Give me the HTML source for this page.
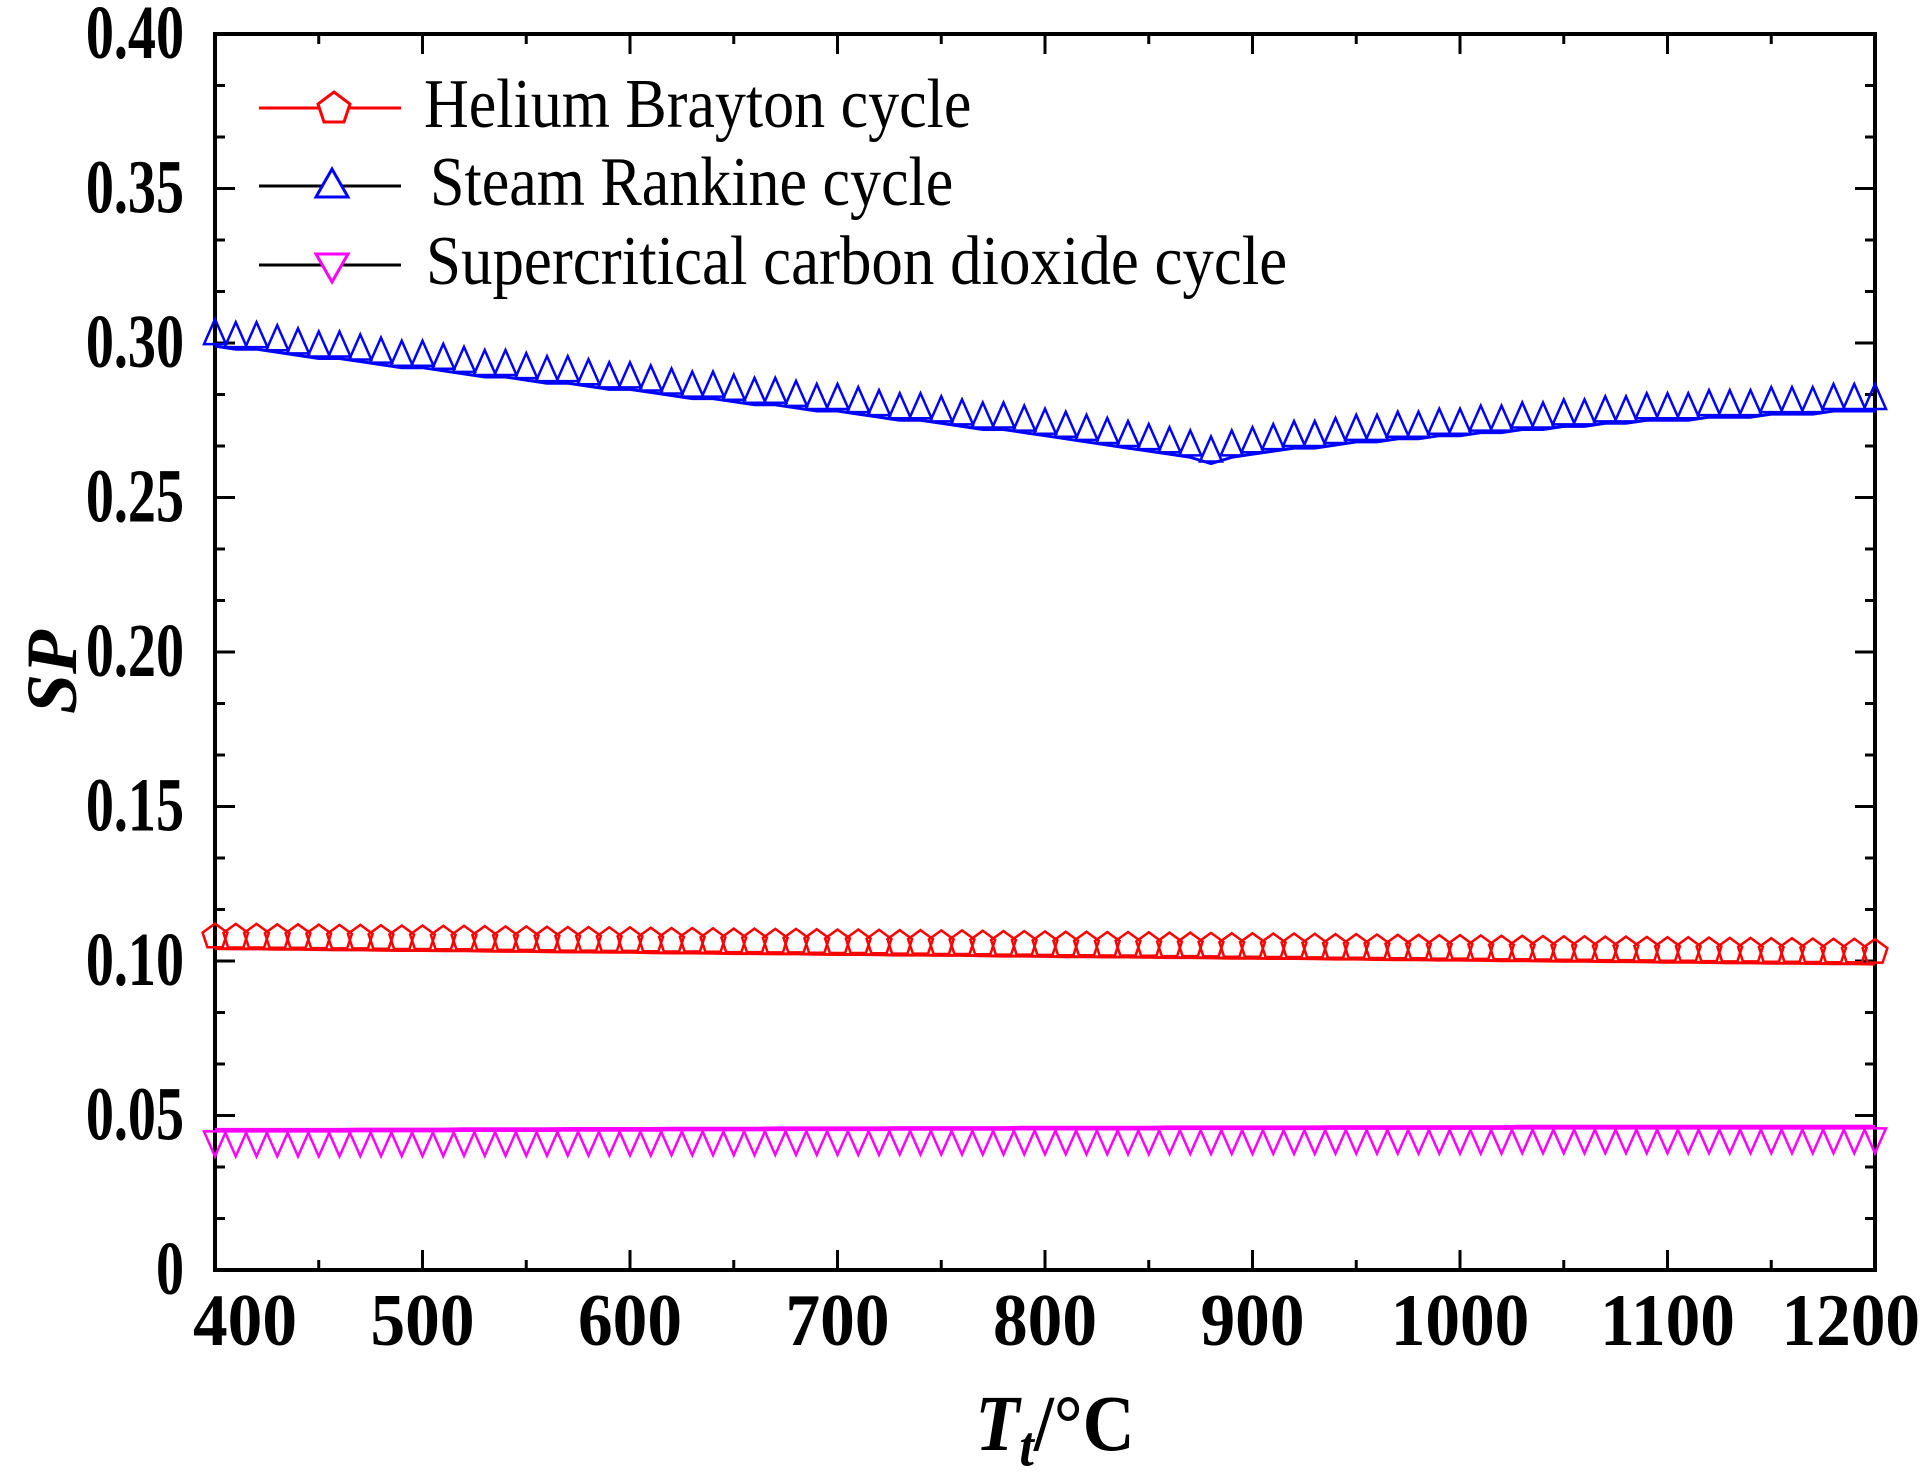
<!DOCTYPE html>
<html><head><meta charset="utf-8"><style>
html,body{margin:0;padding:0;background:#fff;}
svg{display:block;}
text{font-family:"Liberation Serif",serif;}
</style></head><body>
<svg id="chart" width="1925" height="1472" viewBox="0 0 1925 1472" xmlns="http://www.w3.org/2000/svg">
<g id="axes"></g>
<g id="series"></g>
<g id="legend">
  <g>
    <line x1="259" y1="108" x2="401" y2="108" stroke="#ff0000" stroke-width="3"/>
    <polygon points="334,92 350,104 344,122 324,122 318,104" fill="#fff" stroke="#ff0000" stroke-width="3"/>
    <text transform="translate(424,127) scale(1,1.12)" font-size="62" fill="#000">Helium Brayton cycle</text>
  </g>
  <g>
    <line x1="259" y1="186" x2="401" y2="186" stroke="#000" stroke-width="3"/>
    <polygon points="332,169 348,197 316,197" fill="#fff" stroke="#0000ff" stroke-width="3"/>
    <text transform="translate(430,205) scale(1,1.12)" font-size="62" fill="#000">Steam Rankine cycle</text>
  </g>
  <g>
    <line x1="259" y1="265" x2="401" y2="265" stroke="#000" stroke-width="3"/>
    <polygon points="316,254 348,254 332,282" fill="#fff" stroke="#ff00ff" stroke-width="3"/>
    <text transform="translate(426,284) scale(1.015,1.12)" font-size="62" fill="#000">Supercritical carbon dioxide cycle</text>
  </g>
</g>
<text transform="translate(76,672) rotate(-90)" text-anchor="middle" font-size="72" font-weight="bold" font-style="italic">SP</text>
<text transform="translate(1055,1450) scale(1,1.1)" text-anchor="middle" font-size="72" font-weight="bold"><tspan font-style="italic">T</tspan><tspan font-style="italic" font-size="52" dy="14">t</tspan><tspan dy="-14">/°C</tspan></text>
</svg>
<script>
const xTicks = [400,500,600,700,800,900,1000,1100,1200];
const yTicks = [0,0.05,0.10,0.15,0.20,0.25,0.30,0.35,0.40];
const yTickLabels = ["0","0.05","0.10","0.15","0.20","0.25","0.30","0.35","0.40"];
const steam = [.299,.298,.298,.297,.296,.295,.295,.294,.293,.292,.292,.291,.290,.289,.289,.288,.287,.287,.286,.285,.285,.284,.283,.282,.282,.281,.280,.280,.279,.278,.278,.277,.276,.275,.275,.274,.273,.272,.272,.271,.270,.269,.268,.267,.266,.265,.264,.263,.261,.263,.264,.265,.266,.266,.267,.268,.268,.269,.269,.270,.270,.271,.271,.272,.272,.273,.273,.274,.274,.275,.275,.275,.276,.276,.276,.277,.277,.277,.278,.278,.278];
const helium = [.1040,.1039,.1039,.1038,.1038,.1037,.1036,.1036,.1035,.1034,.1034,.1033,.1033,.1032,.1031,.1031,.1030,.1029,.1029,.1028,.1028,.1027,.1026,.1026,.1025,.1024,.1024,.1023,.1023,.1022,.1021,.1021,.1020,.1019,.1019,.1018,.1018,.1017,.1016,.1016,.1015,.1014,.1014,.1013,.1013,.1012,.1011,.1011,.1010,.1009,.1009,.1008,.1008,.1007,.1006,.1006,.1005,.1004,.1004,.1003,.1003,.1002,.1001,.1001,.1000,.0999,.0999,.0998,.0998,.0997,.0996,.0996,.0995,.0994,.0994,.0993,.0993,.0992,.0991,.0991,.0990];
const sco2 = [.0455,.0455,.0455,.0455,.0455,.0455,.0455,.0456,.0456,.0456,.0456,.0456,.0457,.0457,.0457,.0457,.0457,.0458,.0458,.0458,.0458,.0458,.0459,.0459,.0459,.0459,.0459,.0460,.0460,.0460,.0460,.0460,.0460,.0461,.0461,.0461,.0461,.0461,.0461,.0462,.0462,.0462,.0462,.0462,.0462,.0462,.0463,.0463,.0463,.0463,.0463,.0463,.0463,.0463,.0464,.0464,.0464,.0464,.0464,.0464,.0464,.0464,.0464,.0465,.0465,.0465,.0465,.0465,.0465,.0465,.0465,.0465,.0465,.0465,.0465,.0465,.0465,.0465,.0465,.0465,.0465];
const temps = [];
for (let i = 0; i < steam.length; i++) temps.push(400 + 10 * i);

const NS = "http://www.w3.org/2000/svg";
const L = 215, R = 1875, T = 34, B = 1270;
function xS(v){ return L + (v - 400) / 800 * (R - L); }
function yS(v){ return B - v / 0.4 * (B - T); }
function mk(tag, attrs, parent){ const e = document.createElementNS(NS, tag); for (const k in attrs) e.setAttribute(k, attrs[k]); parent.appendChild(e); return e; }

const axes = document.getElementById('axes');
const frame = mk('rect', {x:L, y:T, width:R-L, height:B-T, fill:'none', stroke:'#000', 'stroke-width':4}, axes);


for (let v = 400; v <= 1200; v += 50) {
  const major = (v % 100 === 0);
  const len = major ? 20 : 10;
  const x = xS(v);
  mk('line', {x1:x, y1:B, x2:x, y2:B-len, stroke:'#000', 'stroke-width':3}, axes);
  mk('line', {x1:x, y1:T, x2:x, y2:T+len, stroke:'#000', 'stroke-width':3}, axes);
}
xTicks.forEach((v, i) => {
  let x = xS(v), anchor = 'middle';
  if (i === 0) { x = xS(v) + 30; }
  if (i === xTicks.length - 1) { x = R + 45; anchor = 'end'; }
  const t = mk('text', {transform:`translate(${x},1345) scale(1.05,1.12)`, 'text-anchor':anchor, 'font-size':66, 'font-weight':'bold'}, axes);
  t.textContent = v;
  
  
});
for (let k = 0; k <= 24; k++) {
  const v = k * 0.05 / 3;
  const major = (k % 3 === 0);
  const len = major ? 20 : 10;
  const y = yS(v);
  mk('line', {x1:L, y1:y, x2:L+len, y2:y, stroke:'#000', 'stroke-width':3}, axes);
  mk('line', {x1:R, y1:y, x2:R-len, y2:y, stroke:'#000', 'stroke-width':3}, axes);
}
yTicks.forEach((v, i) => {
  const t = mk('text', {transform:`translate(184,${yS(v) + 24}) scale(0.85,1.15)`, 'text-anchor':'end', 'font-size':66, 'font-weight':'bold'}, axes);
  t.textContent = yTickLabels[i];
  
  
});

const sg = document.getElementById('series');
function drawSeries(vals, color, name, markerFn){
  const g = mk('g', {}, sg);
  
  
  const pts = vals.map((v, i) => xS(temps[i]).toFixed(1) + ',' + yS(v).toFixed(1)).join(' ');
  mk('polyline', {points:pts, fill:'none', stroke:color, 'stroke-width':3}, g);
  vals.forEach((v, i) => {
    const p = mk('polygon', {points:markerFn(xS(temps[i]), yS(v)), fill:'none', stroke:color, 'stroke-width':2.5}, g);
    
    
  });
}
function triUp(x, y){ return `${x},${y-27} ${x+11},${y-2} ${x-11},${y-2}`; }
function triDown(x, y){ return `${x-11},${y+2} ${x+11},${y+2} ${x},${y+27}`; }
function pent(x, y){ const cy = y - 12; const r = 13; let s = []; for (let k = 0; k < 5; k++){ const a = -Math.PI/2 + k*2*Math.PI/5; s.push((x + r*Math.cos(a)).toFixed(1) + ',' + (cy + r*Math.sin(a)).toFixed(1)); } return s.join(' '); }
drawSeries(steam, '#0000ff', 'steam-rankine-series', triUp);
drawSeries(helium, '#ff0000', 'helium-brayton-series', pent);
drawSeries(sco2, '#ff00ff', 'sco2-series', triDown);
</script>
</body></html>
